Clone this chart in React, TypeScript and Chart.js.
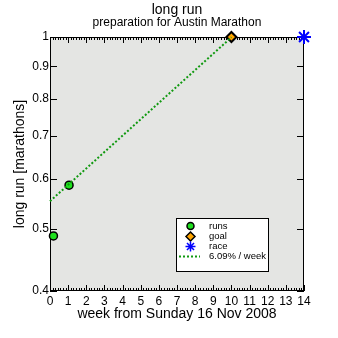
import React, { useEffect, useRef } from "react";
import { Chart, registerables } from "chart.js";

Chart.register(...registerables);

const RUN_WEEKS = [0.19, 1.05];
const RUN_VALUES = [0.488, 0.586];
const GOAL_WEEKS = [10];
const GOAL_VALUES = [1.0];
const RACE_WEEKS = [14];
const RACE_VALUES = [1.0];
const TREND_WEEKS = [0, 10];
const TREND_VALUES = [0.553, 0.999];
const X_TICKS = [0, 1, 2, 3, 4, 5, 6, 7, 8, 9, 10, 11, 12, 13, 14];
const Y_TICKS = [0.4, 0.5, 0.6, 0.7, 0.8, 0.9, 1];
const LEGEND_LABELS = ["runs", "goal", "race", "6.09% / week"];
const TITLE = "long run";
const SUBTITLE = "preparation for Austin Marathon";
const X_TITLE = "week from Sunday 16 Nov 2008";
const Y_TITLE = "long run [marathons]";

const FONT = "'Liberation Sans', Arial, Helvetica, sans-serif";
const PLOT_BG = "#e4e5e3";
const RUN_FILL = "#1ee01e";
const GOAL_FILL = "#ffa500";
const RACE_COLOR = "#0000ff";
const TREND_COLOR = "#109910";

const toXY = (xs: number[], ys: number[]) => xs.map((x, i) => ({ x, y: ys[i] }));

function drawCircle(ctx: CanvasRenderingContext2D, x: number, y: number, r: number) {
  ctx.beginPath();
  ctx.arc(x, y, r, 0, Math.PI * 2);
  ctx.fillStyle = RUN_FILL;
  ctx.fill();
  ctx.lineWidth = 1.5;
  ctx.strokeStyle = "#000";
  ctx.stroke();
}
function drawDiamond(ctx: CanvasRenderingContext2D, x: number, y: number, r: number) {
  ctx.beginPath();
  ctx.moveTo(x, y - r);
  ctx.lineTo(x + r, y);
  ctx.lineTo(x, y + r);
  ctx.lineTo(x - r, y);
  ctx.closePath();
  ctx.fillStyle = GOAL_FILL;
  ctx.fill();
  ctx.lineWidth = 1.5;
  ctx.strokeStyle = "#000";
  ctx.stroke();
}
function drawStar(ctx: CanvasRenderingContext2D, x: number, y: number, r: number) {
  ctx.beginPath();
  ctx.moveTo(x, y - r);
  ctx.lineTo(x, y + r);
  ctx.moveTo(x - r, y);
  ctx.lineTo(x + r, y);
  const d = r * Math.SQRT1_2;
  ctx.moveTo(x - d, y - d);
  ctx.lineTo(x + d, y + d);
  ctx.moveTo(x - d, y + d);
  ctx.lineTo(x + d, y - d);
  ctx.lineWidth = 1.5;
  ctx.strokeStyle = RACE_COLOR;
  ctx.stroke();
}

const framePlugin = {
  id: "frame",
  beforeDraw(chart: any) {
    const { ctx, chartArea } = chart;
    ctx.save();
    ctx.fillStyle = PLOT_BG;
    ctx.fillRect(chartArea.left, chartArea.top, chartArea.right - chartArea.left, chartArea.bottom - chartArea.top);
    // titles, centred over the plot area
    const cx = (chartArea.left + chartArea.right) / 2;
    ctx.fillStyle = "#000";
    ctx.textAlign = "center";
    ctx.textBaseline = "middle";
    ctx.font = `14px ${FONT}`;
    ctx.fillText(TITLE, cx, 10.5);
    ctx.font = `12px ${FONT}`;
    ctx.fillText(SUBTITLE, cx, 23);
    ctx.restore();
  },
  beforeDatasetsDraw(chart: any) {
    const { ctx, chartArea, scales } = chart;
    const { left, right, top, bottom } = chartArea;
    ctx.save();
    ctx.strokeStyle = "#000";
    ctx.lineWidth = 1;
    ctx.beginPath();
    const xs = scales.x;
    const xMin = X_TICKS[0];
    const xMax = X_TICKS[X_TICKS.length - 1];
    for (let d = xMin * 7; d <= xMax * 7; d++) {
      const px = Math.round(xs.getPixelForValue(d / 7)) + 0.5;
      const len = d % 7 === 0 ? 6 : 3;
      ctx.moveTo(px, bottom);
      ctx.lineTo(px, bottom - len);
      ctx.moveTo(px, top);
      ctx.lineTo(px, top + len);
    }
    const ys = scales.y;
    for (const v of Y_TICKS) {
      const py = Math.round(ys.getPixelForValue(v)) + 0.5;
      ctx.moveTo(left, py);
      ctx.lineTo(left + 7, py);
      ctx.moveTo(right, py);
      ctx.lineTo(right - 7, py);
    }
    ctx.stroke();
    ctx.strokeRect(Math.round(left) + 0.5, Math.round(top) + 0.5, Math.round(right - left) - 1, Math.round(bottom - top) - 1);
    ctx.restore();
  },
  afterDatasetsDraw(chart: any) {
    const { ctx } = chart;
    ctx.save();
    const bx = 176.5, by = 218.5, bw = 92, bh = 53;
    ctx.fillStyle = "#ffffff";
    ctx.fillRect(bx, by, bw, bh);
    ctx.strokeStyle = "#000";
    ctx.lineWidth = 1;
    ctx.strokeRect(bx, by, bw, bh);
    const rows = [226, 236.5, 246.5, 256.5];
    const sx = 190.5;
    drawCircle(ctx, sx, rows[0], 3.5);
    drawDiamond(ctx, sx, rows[1], 4.5);
    drawStar(ctx, sx, rows[2], 5);
    ctx.beginPath();
    ctx.setLineDash([2, 2]);
    ctx.strokeStyle = TREND_COLOR;
    ctx.lineWidth = 2;
    ctx.moveTo(179, rows[3]);
    ctx.lineTo(200, rows[3]);
    ctx.stroke();
    ctx.setLineDash([]);
    ctx.fillStyle = "#000";
    ctx.font = `9.5px ${FONT}`;
    ctx.textBaseline = "middle";
    ctx.textAlign = "left";
    LEGEND_LABELS.forEach((t, i) => ctx.fillText(t, 209, rows[i]));
    ctx.restore();
  },
};

export default function App() {
  const ref = useRef<HTMLCanvasElement>(null);
  useEffect(() => {
    Chart.defaults.font.family = FONT;
    Chart.defaults.color = "#000";
    const chart = new Chart(ref.current!, {
      type: "scatter",
      data: {
        datasets: [
          {
            label: "trend",
            data: toXY(TREND_WEEKS, TREND_VALUES),
            showLine: true,
            borderColor: TREND_COLOR,
            borderWidth: 2,
            borderDash: [2, 2],
            pointRadius: 0,
            clip: false,
          } as any,
          {
            label: "runs",
            data: toXY(RUN_WEEKS, RUN_VALUES),
            pointStyle: "circle",
            pointRadius: 4,
            backgroundColor: RUN_FILL,
            borderColor: "#000",
            borderWidth: 1.5,
            clip: false,
          },
          {
            label: "goal",
            data: toXY(GOAL_WEEKS, GOAL_VALUES),
            pointStyle: "rectRot",
            pointRadius: 5,
            backgroundColor: GOAL_FILL,
            borderColor: "#000",
            borderWidth: 2,
            clip: false,
          },
          {
            label: "race",
            data: toXY(RACE_WEEKS, RACE_VALUES),
            pointStyle: "star",
            pointRadius: 7,
            backgroundColor: RACE_COLOR,
            borderColor: RACE_COLOR,
            borderWidth: 2,
            clip: false,
          },
        ],
      },
      options: {
        responsive: false,
        animation: false,
        events: [],
        layout: { padding: { left: 0, right: 34, top: 37, bottom: 0 } },
        plugins: {
          legend: { display: false },
          tooltip: { enabled: false },
          title: { display: false },
          subtitle: { display: false },
        },
        scales: {
          x: {
            type: "linear",
            min: X_TICKS[0],
            max: X_TICKS[X_TICKS.length - 1],
            afterBuildTicks: (s: any) => {
              s.ticks = X_TICKS.map((v) => ({ value: v }));
            },
            afterFit: (s: any) => {
              s.height = 47;
            },
            grid: { display: false, drawTicks: false },
            border: { display: false },
            ticks: {
              color: "#000",
              font: { size: 12, family: FONT },
              padding: 3,
              autoSkip: false,
              maxRotation: 0,
              callback: (v: any) => String(v),
            },
            title: {
              display: true,
              text: X_TITLE,
              color: "#000",
              font: { size: 14, family: FONT },
              padding: { top: 0, bottom: 15 },
            },
          },
          y: {
            type: "logarithmic",
            min: Y_TICKS[0],
            max: Y_TICKS[Y_TICKS.length - 1],
            afterBuildTicks: (s: any) => {
              s.ticks = Y_TICKS.map((v) => ({ value: v }));
            },
            afterFit: (s: any) => {
              s.width = 50;
            },
            grid: { display: false, drawTicks: false },
            border: { display: false },
            ticks: {
              color: "#000",
              font: { size: 12, family: FONT },
              padding: 1,
              autoSkip: false,
              callback: (v: any) => String(v),
            },
            title: {
              display: true,
              text: Y_TITLE,
              color: "#000",
              font: { size: 14, family: FONT },
              padding: { top: 12, bottom: 0 },
            },
          },
        },
      } as any,
      plugins: [framePlugin],
    });
    return () => chart.destroy();
  }, []);
  return (
    <div style={{ position: "fixed", left: 0, top: 0, width: 338, height: 338, background: "#fff" }}>
      <canvas ref={ref} width={338} height={338} style={{ width: 338, height: 338, display: "block" }} />
    </div>
  );
}
